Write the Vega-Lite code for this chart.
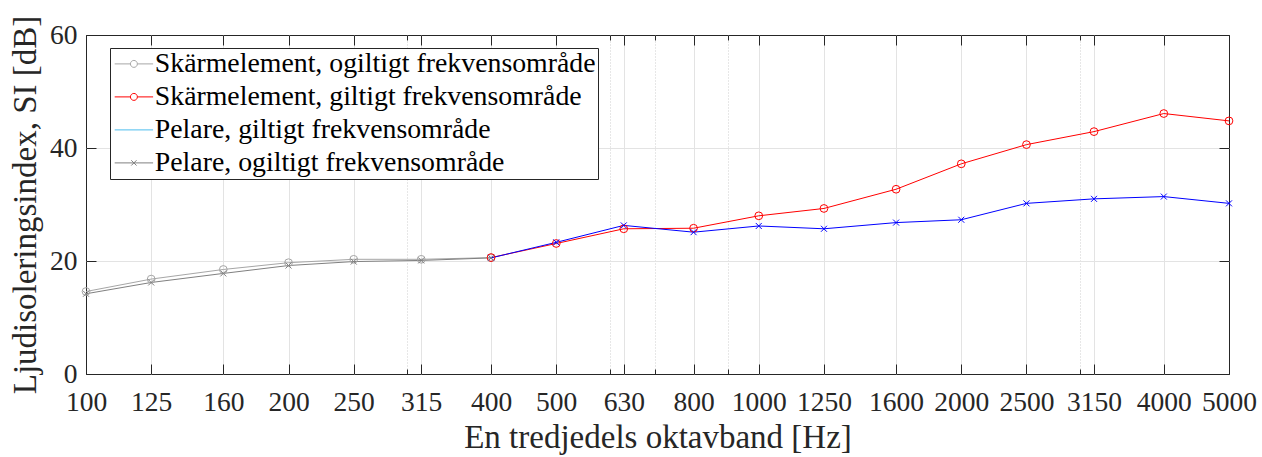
{
  "$schema": "https://vega.github.io/schema/vega-lite/v6.json",
  "width": 1143,
  "height": 339,
  "autosize": {"type": "none"},
  "padding": {"left": 86, "top": 35, "right": 33, "bottom": 83},
  "background": "white",
  "config": {
    "font": "Liberation Serif",
    "view": {"stroke": "#262626", "strokeWidth": 1},
    "axis": {
      "labelFont": "Liberation Serif",
      "labelFontSize": 27.5,
      "labelColor": "#262626",
      "titleFont": "Liberation Serif",
      "titleFontSize": 33,
      "titleFontWeight": "normal",
      "titleColor": "#262626",
      "tickColor": "#262626",
      "tickWidth": 1,
      "domain": false,
      "labelFlush": false,
      "labelOverlap": false
    }
  },
  "data": {
    "values": [
      {"f": 100, "si": 14.6, "s": "Skärmelement, ogiltigt frekvensområde"},
      {"f": 125, "si": 16.8, "s": "Skärmelement, ogiltigt frekvensområde"},
      {"f": 160, "si": 18.5, "s": "Skärmelement, ogiltigt frekvensområde"},
      {"f": 200, "si": 19.7, "s": "Skärmelement, ogiltigt frekvensområde"},
      {"f": 250, "si": 20.3, "s": "Skärmelement, ogiltigt frekvensområde"},
      {"f": 315, "si": 20.3, "s": "Skärmelement, ogiltigt frekvensområde"},
      {"f": 400, "si": 20.6, "s": "Skärmelement, ogiltigt frekvensområde"},
      {"f": 400, "si": 20.6, "s": "Skärmelement, giltigt frekvensområde"},
      {"f": 500, "si": 23.1, "s": "Skärmelement, giltigt frekvensområde"},
      {"f": 630, "si": 25.7, "s": "Skärmelement, giltigt frekvensområde"},
      {"f": 800, "si": 25.8, "s": "Skärmelement, giltigt frekvensområde"},
      {"f": 1000, "si": 28.0, "s": "Skärmelement, giltigt frekvensområde"},
      {"f": 1250, "si": 29.3, "s": "Skärmelement, giltigt frekvensområde"},
      {"f": 1600, "si": 32.7, "s": "Skärmelement, giltigt frekvensområde"},
      {"f": 2000, "si": 37.2, "s": "Skärmelement, giltigt frekvensområde"},
      {"f": 2500, "si": 40.6, "s": "Skärmelement, giltigt frekvensområde"},
      {"f": 3150, "si": 42.9, "s": "Skärmelement, giltigt frekvensområde"},
      {"f": 4000, "si": 46.1, "s": "Skärmelement, giltigt frekvensområde"},
      {"f": 5000, "si": 44.8, "s": "Skärmelement, giltigt frekvensområde"},
      {"f": 400, "si": 20.55, "s": "Pelare, giltigt frekvensområde"},
      {"f": 500, "si": 23.3, "s": "Pelare, giltigt frekvensområde"},
      {"f": 630, "si": 26.3, "s": "Pelare, giltigt frekvensområde"},
      {"f": 800, "si": 25.1, "s": "Pelare, giltigt frekvensområde"},
      {"f": 1000, "si": 26.2, "s": "Pelare, giltigt frekvensområde"},
      {"f": 1250, "si": 25.7, "s": "Pelare, giltigt frekvensområde"},
      {"f": 1600, "si": 26.8, "s": "Pelare, giltigt frekvensområde"},
      {"f": 2000, "si": 27.3, "s": "Pelare, giltigt frekvensområde"},
      {"f": 2500, "si": 30.2, "s": "Pelare, giltigt frekvensområde"},
      {"f": 3150, "si": 31.0, "s": "Pelare, giltigt frekvensområde"},
      {"f": 4000, "si": 31.4, "s": "Pelare, giltigt frekvensområde"},
      {"f": 5000, "si": 30.2, "s": "Pelare, giltigt frekvensområde"},
      {"f": 100, "si": 14.2, "s": "Pelare, ogiltigt frekvensområde"},
      {"f": 125, "si": 16.2, "s": "Pelare, ogiltigt frekvensområde"},
      {"f": 160, "si": 17.8, "s": "Pelare, ogiltigt frekvensområde"},
      {"f": 200, "si": 19.2, "s": "Pelare, ogiltigt frekvensområde"},
      {"f": 250, "si": 19.9, "s": "Pelare, ogiltigt frekvensområde"},
      {"f": 315, "si": 20.1, "s": "Pelare, ogiltigt frekvensområde"},
      {"f": 400, "si": 20.55, "s": "Pelare, ogiltigt frekvensområde"}
    ]
  },
  "resolve": {"axis": {"x": "independent", "y": "independent"}},
  "layer": [
    {
      "mark": {"type": "line", "strokeWidth": 1},
      "encoding": {
        "x": {
          "field": "f", "type": "quantitative",
          "scale": {"type": "log", "domain": [100, 5000], "nice": false},
          "axis": {
            "orient": "bottom",
            "values": [100, 125, 160, 200, 250, 315, 400, 500, 630, 800, 1000, 1250, 1600, 2000, 2500, 3150, 4000, 5000],
            "format": "d",
            "labelBaseline": "alphabetic",
            "labelPadding": 46,
            "tickSize": -10,
            "grid": true,
            "gridColor": {"condition": {"test": "datum.value == 100 || datum.value == 5000", "value": "transparent"}, "value": "#e3e3e3"},
            "title": "En tredjedels oktavband [Hz]",
            "titleBaseline": "alphabetic",
            "titleY": 73
          }
        },
        "y": {
          "field": "si", "type": "quantitative",
          "scale": {"domain": [0, 60], "nice": false},
          "axis": {
            "orient": "left",
            "values": [0, 20, 40, 60],
            "labelPadding": 19,
            "tickSize": -10,
            "grid": true,
            "gridColor": {"condition": {"test": "datum.value == 0 || datum.value == 60", "value": "transparent"}, "value": "#e3e3e3"},
            "title": "Ljudisoleringsindex, SI [dB]",
            "titleBaseline": "alphabetic",
            "titleAngle": -90,
            "titleX": -51
          }
        },
        "color": {
          "field": "s", "type": "nominal",
          "scale": {
            "domain": ["Skärmelement, giltigt frekvensområde", "Pelare, giltigt frekvensområde", "Skärmelement, ogiltigt frekvensområde", "Pelare, ogiltigt frekvensområde"],
            "range": ["#ff0000", "#0000ff", "#a6a6a6", "#808080"]
          },
          "legend": null
        }
      }
    },
    {
      "transform": [{"filter": {"field": "s", "oneOf": ["Skärmelement, ogiltigt frekvensområde", "Skärmelement, giltigt frekvensområde"]}}],
      "mark": {"type": "point", "shape": "circle", "filled": false, "size": 60, "strokeWidth": 1, "opacity": 1},
      "encoding": {
        "x": {
          "field": "f", "type": "quantitative",
          "scale": {"type": "log", "domain": [100, 5000], "nice": false},
          "axis": {
            "orient": "top",
            "values": [100, 125, 160, 200, 250, 315, 400, 500, 630, 800, 1000, 1250, 1600, 2000, 2500, 3150, 4000, 5000],
            "labels": false, "tickSize": -10, "grid": false, "title": null
          }
        },
        "y": {
          "field": "si", "type": "quantitative",
          "scale": {"domain": [0, 60], "nice": false},
          "axis": {"orient": "right", "values": [0, 20, 40, 60], "labels": false, "tickSize": -10, "grid": false, "title": null}
        },
        "color": {"field": "s", "type": "nominal", "legend": null}
      }
    },
    {
      "transform": [{"filter": {"field": "s", "oneOf": ["Pelare, giltigt frekvensområde", "Pelare, ogiltigt frekvensområde"]}}],
      "mark": {"type": "point", "shape": "M-1,-1L1,1M-1,1L1,-1", "filled": false, "size": 36, "strokeWidth": 1, "opacity": 1},
      "encoding": {
        "x": {
          "field": "f", "type": "quantitative",
          "scale": {"type": "log", "domain": [100, 5000], "nice": false},
          "axis": {
            "orient": "bottom",
            "values": [300, 600, 700, 900, 3000],
            "labels": false, "tickSize": -5, "grid": true,
            "gridColor": "#cfcfcf", "gridDash": [1, 2], "title": null
          }
        },
        "y": {"field": "si", "type": "quantitative", "scale": {"domain": [0, 60], "nice": false}, "axis": null},
        "color": {"field": "s", "type": "nominal", "legend": null}
      }
    },
    {
      "transform": [{"filter": "false"}],
      "mark": {"type": "point", "filled": false, "strokeWidth": 1, "opacity": 1},
      "encoding": {
        "x": {
          "field": "f", "type": "quantitative",
          "scale": {"type": "log", "domain": [100, 5000], "nice": false},
          "axis": {"orient": "top", "values": [300, 600, 700, 900, 3000], "labels": false, "tickSize": -5, "grid": false, "title": null}
        },
        "y": {"field": "si", "type": "quantitative", "scale": {"domain": [0, 60], "nice": false}, "axis": null},
        "stroke": {
          "field": "s", "type": "nominal",
          "scale": {
            "domain": ["Skärmelement, ogiltigt frekvensområde", "Skärmelement, giltigt frekvensområde", "Pelare, giltigt frekvensområde", "Pelare, ogiltigt frekvensområde"],
            "range": ["#a6a6a6", "#ff0000", "#4dbeee", "#808080"]
          },
          "legend": {
            "orient": "none", "legendX": 24, "legendY": 13, "title": null,
            "padding": 2, "symbolSize": 576, "symbolStrokeWidth": 1, "symbolOffset": 8,
            "labelOffset": 7, "rowPadding": 4, "labelFont": "Liberation Serif",
            "labelFontSize": 27.8, "labelColor": "#000000", "labelLimit": 1000,
            "strokeColor": "#262626", "fillColor": "white"
          }
        },
        "shape": {
          "field": "s", "type": "nominal",
          "scale": {
            "domain": ["Skärmelement, ogiltigt frekvensområde", "Skärmelement, giltigt frekvensområde", "Pelare, giltigt frekvensområde", "Pelare, ogiltigt frekvensområde"],
            "range": [
              "M-1.6,0H-0.29M0.29,0H1.6M0.29,0A0.29,0.29,0,1,1,-0.29,0A0.29,0.29,0,1,1,0.29,0",
              "M-1.6,0H-0.29M0.29,0H1.6M0.29,0A0.29,0.29,0,1,1,-0.29,0A0.29,0.29,0,1,1,0.29,0",
              "M-1.6,0H1.6",
              "M-1.6,0H1.6M-0.22,-0.22L0.22,0.22M-0.22,0.22L0.22,-0.22"
            ]
          },
          "legend": {
            "orient": "none", "legendX": 24, "legendY": 13, "title": null,
            "padding": 2, "symbolSize": 576, "symbolStrokeWidth": 1, "symbolOffset": 8,
            "labelOffset": 7, "rowPadding": 4, "labelFont": "Liberation Serif",
            "labelFontSize": 27.8, "labelColor": "#000000", "labelLimit": 1000,
            "strokeColor": "#262626", "fillColor": "white"
          }
        }
      }
    }
  ]
}
